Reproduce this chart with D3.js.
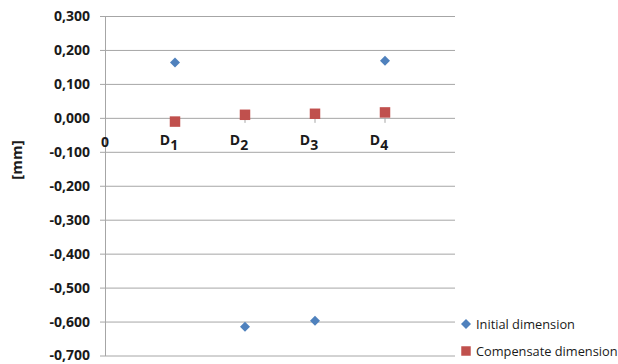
<!DOCTYPE html>
<html>
<head>
<meta charset="utf-8">
<script src="https://cdn.jsdelivr.net/npm/d3@7"></script>
<style>
  body { margin: 0; background: #fff; }
  text { font-family: "Open Sans", "Liberation Sans", sans-serif; }
  .tick-label { font-weight: bold; font-size: 14px; fill: #1a1a1a; }
  .cat-label { font-weight: bold; font-size: 14px; fill: #1a1a1a; }
  .axis-title { font-weight: bold; font-size: 15px; fill: #1a1a1a; }
  .legend-label { font-size: 12.8px; fill: #1a1a1a; }
</style>
</head>
<body>
<div id="chart"></div>
<script>
// data
var categories = ["0", "D1", "D2", "D3", "D4"];
var catPos = [0, 1, 2, 3, 4];
var seriesNames = ["Initial dimension", "Compensate dimension"];
var initialValues = [0.163, -0.615, -0.598, 0.168];
var compensateValues = [-0.011, 0.009, 0.012, 0.016];
var yTicks = [0.3, 0.2, 0.1, 0.0, -0.1, -0.2, -0.3, -0.4, -0.5, -0.6, -0.7];

var W = 618, H = 364;
var margin = {top: 16, left: 105, right: 163, bottom: 8.5};
var width = W - margin.left - margin.right,
    height = H - margin.top - margin.bottom;

var locale = d3.formatLocale({decimal: ",", thousands: ".", grouping: [3], currency: ["", ""], minus: "-"});
var fmt = locale.format(".3f");

var x = d3.scaleLinear().domain([0, 5]).range([0, width]);
var y = d3.scaleLinear().domain([-0.7, 0.3]).range([height, 0]);

var svg = d3.select("#chart").append("svg")
    .attr("width", W)
    .attr("height", H);

var g = svg.append("g")
    .attr("transform", "translate(" + margin.left + "," + margin.top + ")");

// gridlines (including left tick stubs)
var grid = g.append("g")
    .call(d3.axisLeft(y).tickValues(yTicks).tickSize(-width).tickFormat(""));
grid.select(".domain").remove();
grid.selectAll(".tick line").attr("stroke", "#a6a6a6").attr("x1", -5);

// y axis
var yAx = g.append("g")
    .call(d3.axisLeft(y).tickValues(yTicks).tickSize(0).tickPadding(15).tickFormat(fmt));
yAx.select(".domain").attr("stroke", "#a6a6a6");
yAx.selectAll(".tick text").attr("class", "tick-label").attr("font-family", null).attr("font-size", null);

// x axis tick stubs at the categories
g.append("g").selectAll("line")
    .data(catPos.slice(1))
    .enter().append("line")
    .attr("x1", function(d) { return x(d); })
    .attr("x2", function(d) { return x(d); })
    .attr("y1", y(0))
    .attr("y2", y(0) + 5)
    .attr("stroke", "#a6a6a6");

// category labels with subscript
var cat = g.append("g").selectAll("text")
    .data(categories)
    .enter().append("text")
    .attr("class", "cat-label")
    .attr("x", function(d, i) { return x(catPos[i]) + (i === 0 ? 0 : -6); })
    .attr("y", function(d, i) { return y(0) + (i === 0 ? 29 : 27); })
    .attr("text-anchor", "middle");
cat.each(function(d) {
    var t = d3.select(this);
    if (d.length > 1) {
        t.append("tspan").text(d.charAt(0));
        t.append("tspan").attr("dy", 5).text(d.slice(1));
    } else {
        t.text(d);
    }
});

// y axis title
svg.append("text")
    .attr("transform", "translate(22,160) rotate(-90)")
    .attr("text-anchor", "middle")
    .attr("class", "axis-title")
    .text("[mm]");

// Excel-style diamond: a square turned 45 degrees
var diamond = d3.symbol().type(d3.symbolSquare).size(50);
var square = d3.symbol().type(d3.symbolSquare).size(110);

g.append("g").selectAll("path")
    .data(initialValues)
    .enter().append("path")
    .attr("d", diamond)
    .attr("fill", "#4f81bd")
    .attr("transform", function(d, i) { return "translate(" + x(catPos[i + 1]) + "," + y(d) + ") rotate(45)"; });

g.append("g").selectAll("path")
    .data(compensateValues)
    .enter().append("path")
    .attr("d", square)
    .attr("fill", "#c0504d")
    .attr("transform", function(d, i) { return "translate(" + x(catPos[i + 1]) + "," + y(d) + ")"; });

// legend
var legend = svg.append("g").attr("transform", "translate(466,324)");
var items = legend.selectAll("g")
    .data(seriesNames)
    .enter().append("g")
    .attr("transform", function(d, i) { return "translate(0," + (i * 27) + ")"; });
items.append("path")
    .attr("d", function(d, i) { return i === 0 ? diamond() : d3.symbol().type(d3.symbolSquare).size(90)(); })
    .attr("transform", function(d, i) { return i === 0 ? "rotate(45)" : null; })
    .attr("fill", function(d, i) { return i === 0 ? "#4f81bd" : "#c0504d"; });
items.append("text")
    .attr("class", "legend-label")
    .attr("x", 10)
    .attr("y", 4.5)
    .text(function(d) { return d; });
</script>
</body>
</html>
